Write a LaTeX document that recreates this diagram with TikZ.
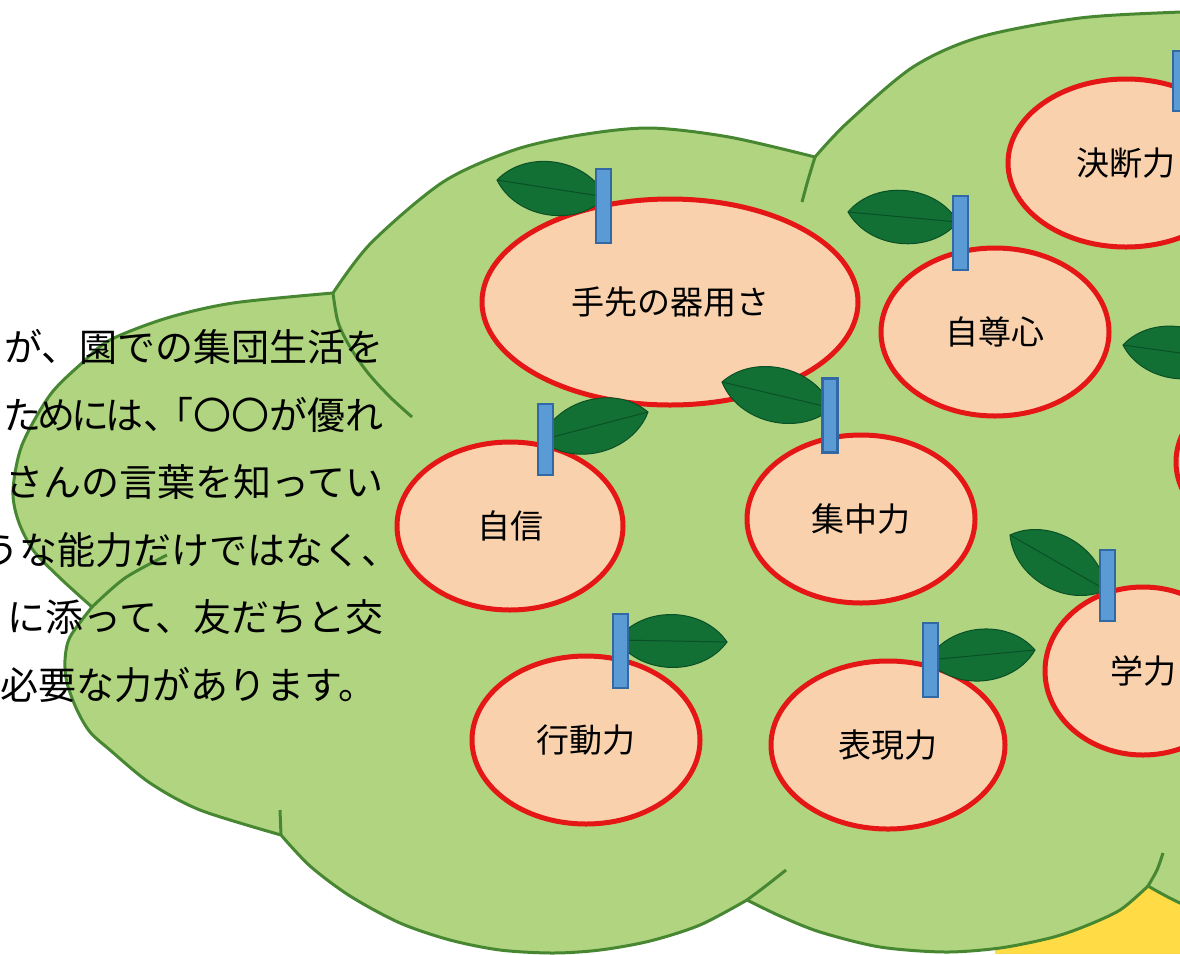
\documentclass[tikz,border=0pt]{standalone}
\usepackage{fontspec}
\newfontfamily\jp{Noto Sans CJK JP}
\usetikzlibrary{shapes.geometric}

\definecolor{cloudgreen}{RGB}{176,212,128}
\definecolor{cloudedge}{RGB}{72,135,50}
\definecolor{peel}{RGB}{249,210,173}
\definecolor{peeledge}{RGB}{228,22,22}
\definecolor{stemblue}{RGB}{91,155,213}
\definecolor{stemedge}{RGB}{50,105,165}
\definecolor{leafgreen}{RGB}{18,112,52}
\definecolor{leafdark}{RGB}{10,80,38}
\definecolor{trunk}{RGB}{255,220,70}

\newcommand\leaf[2]{%
  \fill[leafgreen, draw=leafdark, line width=1pt] #1 to[bend left=55] #2 to[bend left=55] #1 -- cycle;
  \draw[leafdark, line width=1pt] #1 -- #2;}

\begin{document}
\begin{tikzpicture}[x=1pt, y=-1pt,
  apple/.style={ellipse, draw=peeledge, fill=peel, line width=5pt, inner sep=0pt,
    minimum width=228pt, minimum height=168pt, font=\jp\fontsize{33}{33}\selectfont},
  stalk/.style={rectangle, draw=stemedge, fill=stemblue, line width=2.5pt, inner sep=0pt,
    minimum width=15pt, minimum height=74pt},
  body/.style={inner sep=0pt, font=\jp\fontsize{38}{40}\selectfont},
  cloudline/.style={draw=cloudedge, line width=3pt}]
\useasboundingbox (0,0) rectangle (1180,954);
\clip (0,0) rectangle (1180,954);

\fill[trunk] (995,850) rectangle (1180,954);

% crown
\draw[cloudline, fill=cloudgreen]
  plot[smooth] coordinates {(92,607) (60,578) (33,550) (18,520) (13,490) (22,445) (50,395) (82,363) (110,340) (167,318) (233,303) (333,293)}
  -- plot[smooth] coordinates {(333,293) (371,243) (443,182) (514,150) (580,135) (650,128) (729,137) (815,157)}
  -- plot[smooth] coordinates {(815,157) (847,123) (913,67) (980,37) (1080,18) (1180,12) (1240,10)}
  -- (1300,10) -- (1300,940)
  -- plot[smooth] coordinates {(1230,922) (1180,903) (1148,886)}
  -- plot[smooth] coordinates {(1148,886) (1120,910) (1083,927) (1050,938) (1000,948) (945,952) (880,947) (820,932) (780,916) (747,900)}
  -- plot[smooth] coordinates {(747,900) (700,925) (650,941) (600,950) (553,953) (500,950) (450,940) (400,923) (350,896) (310,866) (281,835)}
  -- plot[smooth] coordinates {(281,835) (200,810) (150,783) (110,750) (90,732) (77,710) (67,683) (65,660) (70,637) (92,607)}
  -- cycle;
\draw[cloudline] plot[smooth] coordinates {(333,293) (338,322) (350,347) (368,373) (390,397) (412,417)};
\draw[cloudline] plot[smooth] coordinates {(815,157) (808,180) (802,202)};
\draw[cloudline] plot[smooth] coordinates {(92,607) (125,578) (167,555)};
\draw[cloudline] (281,835) -- (280,810);
\draw[cloudline] plot[smooth] coordinates {(747,900) (767,885) (786,870)};
\draw[cloudline] plot[smooth] coordinates {(1148,886) (1157,870) (1163,853)};

% apples
\node[apple, minimum width=376pt, minimum height=206pt] (a1) at (670,302) {手先の器用さ};
\node[apple] (a2) at (995,332) {自尊心};
\node[apple, minimum width=236pt] (a3) at (1126,163) {決断力};
\node[apple, minimum width=226pt] (a4) at (510,526) {自信};
\node[apple] (a5) at (861,519) {集中力};
\node[apple] (a6) at (586,740) {行動力};
\node[apple, minimum width=234pt] (a7) at (888,745) {表現力};
\node[apple, minimum width=196pt] (a8) at (1143,671) {学力};
\node[apple] (a9) at (1290,462) {};

\leaf{(497,180)}{(606,197)}
\leaf{(848,212)}{(958,222)}
\leaf{(541,440)}{(648,412)}
\leaf{(722,382)}{(832,408)}
\leaf{(1123,345)}{(1230,360)}
\leaf{(1010,535)}{(1106,590)}
\leaf{(617,640)}{(727,642)}
\leaf{(928,660)}{(1035,650)}

\node[stalk] (s1) at (603.5,206) {};
\node[stalk] (s2) at (960.5,233) {};
\node[stalk, minimum height=60pt] (s3) at (1180.5,81) {};
\node[stalk, minimum height=71pt] (s4) at (545.5,439.5) {};
\node[stalk] (s5) at (830,415.5) {};
\node[stalk] (s6) at (620.5,651) {};
\node[stalk] (s7) at (930.5,660) {};
\node[stalk, minimum height=71pt] (s8) at (1107.5,585.5) {};

% text running in from the left
\node[body, anchor=base east] (l1) at (384,361) {が、園での集団生活を};
\node[body, anchor=base east] (l2) at (384,429) {た\kern-.1emめ\kern-.1emに\kern-.1emは、\kern-.68em「〇〇が優れ};
\node[body, anchor=base east] (l3) at (384,496) {さんの言葉を知ってい};
\node[body, anchor=base east] (l4) at (400,564) {うな能力だけではなく、};
\node[body, anchor=base east] (l5) at (384,631) {に添って、友だちと交};
\node[body, anchor=base west] (l6) at (0,699) {必要な力があります。};
\end{tikzpicture}
\end{document}
